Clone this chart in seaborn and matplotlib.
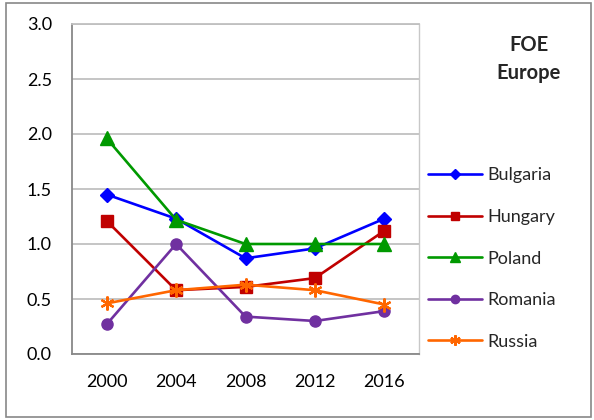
import matplotlib
matplotlib.use("Agg")
import matplotlib.pyplot as plt
import seaborn as sns
import pandas as pd
from matplotlib.patches import Rectangle

years = ["2000", "2004", "2008", "2012", "2016"]
bulgaria = [1.45, 1.23, 0.87, 0.96, 1.23]
hungary = [1.21, 0.58, 0.61, 0.69, 1.12]
poland = [1.96, 1.22, 1.00, 1.00, 1.00]
romania = [0.27, 1.00, 0.34, 0.30, 0.39]
russia = [0.46, 0.58, 0.63, 0.58, 0.45]
countries = ["Bulgaria", "Hungary", "Poland", "Romania", "Russia"]
series = [bulgaria, hungary, poland, romania, russia]
y_ticks = [0.0, 0.5, 1.0, 1.5, 2.0, 2.5, 3.0]

colors = {"Bulgaria": "#0000FF", "Hungary": "#C00000", "Poland": "#009900",
          "Romania": "#7030A0", "Russia": "#FF6600"}
markers = {"Bulgaria": "D", "Hungary": "s", "Poland": "^",
           "Romania": "o", "Russia": (6, 2, 0)}
msizes = {"Bulgaria": 7, "Hungary": 8, "Poland": 10, "Romania": 8, "Russia": 10}

sns.set_theme(style="white")
plt.rcParams["font.family"] = ["Lato", "DejaVu Sans"]

fig = plt.figure(figsize=(5.94, 4.20), dpi=100)
ax = fig.add_axes([72/594, 1-354/420, (419-72)/594, (354-24)/420])

df = pd.DataFrame({"year": years * len(countries),
                   "value": sum(series, []),
                   "country": [c for c in countries for _ in years]})

for c in countries:
    sub = df[df["country"] == c]
    sns.lineplot(data=sub, x="year", y="value", ax=ax, color=colors[c],
                 marker=markers[c], markersize=msizes[c], linewidth=1.9,
                 markeredgecolor=colors[c], markeredgewidth=1.6 if c == "Russia" else 1,
                 label=c, legend=False)

ax.set_xlim(-0.5, 4.5)
ax.set_ylim(0, 3.0)
ax.set_yticks(y_ticks)
ax.set_yticklabels([f"{v:.1f}" for v in y_ticks])
ax.set_xlabel("")
ax.set_ylabel("")
ax.yaxis.grid(True, color="#C0C0C0", linewidth=1.3)
ax.set_axisbelow(True)
ax.set_xticks([4.5], minor=True)
ax.tick_params(axis="both", which="both", direction="out", length=4.5,
               width=1, color="#888888", labelsize=13, labelcolor="black")
ax.tick_params(axis="y", pad=10)
ax.tick_params(axis="x", pad=10)
for side in ["left", "bottom"]:
    ax.spines[side].set_color("#888888")
    ax.spines[side].set_linewidth(1.3)
ax.spines["right"].set_color("#C8C8C8")
ax.spines["right"].set_linewidth(1.0)
ax.spines["top"].set_color("#C0C0C0")
ax.spines["top"].set_linewidth(1.3)

handles, labels = ax.get_legend_handles_labels()
leg = fig.legend(handles, labels, loc="upper left",
                 bbox_to_anchor=(421/594, 1-160/420), frameon=False,
                 fontsize=13, handlelength=3.0, handletextpad=0.3,
                 labelspacing=1.42, markerscale=0.75, borderaxespad=0)

fig.text(529/594, 1-59/420, "FOE\nEurope", ha="center", va="center",
         fontsize=14.5, fontweight="bold", linespacing=1.55)

fig.patches.append(Rectangle((6/594, 3/420), 585/594, 414/420,
                             transform=fig.transFigure, fill=False,
                             edgecolor="#888888", linewidth=1.2))

fig.savefig("out.png", dpi=100)
